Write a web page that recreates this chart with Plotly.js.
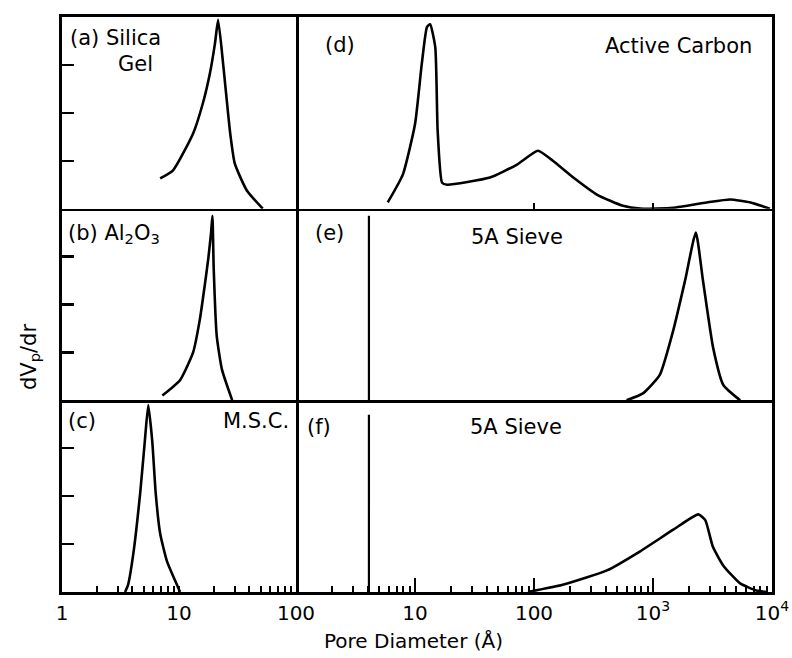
<!DOCTYPE html>
<html>
<head>
<meta charset="utf-8">
<script src="https://cdn.plot.ly/plotly-3.0.1.min.js"></script>
<style>html,body{margin:0;padding:0;background:#fff;}#chart{width:792px;height:658px;}</style>
</head>
<body>
<div id="chart"></div>
<script>
// ---- Data (pore diameter in Å, dVp/dr in arbitrary units) ----
const aX = [6.9, 8.9, 13.2, 16, 18.4, 20.3, 21.6, 24, 27.4, 30, 38, 52];
const aY = [0.63, 0.80, 1.57, 2.2, 2.83, 3.45, 3.94, 2.95, 1.57, 0.94, 0.38, 0];

const bX = [7.2, 10.2, 13.2, 15.1, 16.6, 17.8, 18.8, 19.3, 19.8, 21, 23.3, 28.5];
const bY = [0.1, 0.42, 1.0, 1.7, 2.4, 2.96, 3.5, 3.85, 2.75, 1.35, 0.64, 0];

const cX = [3.46, 3.67, 4.07, 4.66, 5.1, 5.46, 5.91, 6.32, 6.9, 7.9, 9.6, 10.2];
const cY = [0, 0.15, 0.8, 2.07, 3.14, 3.9, 3.14, 2.07, 1.22, 0.64, 0.15, 0];

const dX = [5.9, 7.9, 10, 11.4, 12.6, 13.4, 14.8, 15.5, 16.9, 18.6, 42.6, 72, 108, 144, 214, 340, 560, 780, 1480, 2830, 4450, 6600, 9600];
const dY = [0.13, 0.71, 1.76, 3.02, 3.79, 3.85, 3.37, 1.63, 0.54, 0.50, 0.65, 0.92, 1.21, 1.0, 0.65, 0.29, 0.06, 0, 0.02, 0.13, 0.19, 0.13, 0];

const eX = [600, 830, 1140, 1480, 1860, 2290, 2630, 3200, 3900, 5400];
const eY = [0, 0.15, 0.53, 1.46, 2.5, 3.5, 2.5, 1.1, 0.32, 0];
const eLineX = [4.1, 4.1];
const eLineY = [0, 3.85];

const fX = [89, 174, 410, 780, 1480, 2400, 2750, 3180, 3900, 5400, 7400, 9100];
const fY = [0, 0.15, 0.45, 0.85, 1.3, 1.62, 1.5, 0.95, 0.55, 0.18, 0.03, 0];
const fLineX = [4.1, 4.1];
const fLineY = [0, 3.7];

const leftTickVals = [1, 10, 100];
const leftTickText = ['1', '10', '100'];
const leftMinor = [2,3,4,5,6,7,8,9,20,30,40,50,60,70,80,90];
const rightTickVals = [10, 100, 1000, 10000];
const rightTickText = ['10', '100', '10<sup>3</sup>', '10<sup>4</sup>'];
const rightMinor = [2,3,4,5,6,7,8,9,20,30,40,50,60,70,80,90,200,300,400,500,600,700,800,900,2000,3000,4000,5000,6000,7000,8000,9000];
const yTickVals = [1, 2, 3];

// ---- Traces ----
const lineStyle = {color: '#000', width: 2.6, shape: 'spline', smoothing: 0.5};
const vStyle = {color: '#000', width: 2.2};
const traces = [
  {x: aX, y: aY, xaxis: 'x', yaxis: 'y', mode: 'lines', line: lineStyle, hoverinfo: 'skip'},
  {x: bX, y: bY, xaxis: 'x2', yaxis: 'y2', mode: 'lines', line: lineStyle, hoverinfo: 'skip'},
  {x: cX, y: cY, xaxis: 'x3', yaxis: 'y3', mode: 'lines', line: lineStyle, hoverinfo: 'skip'},
  {x: dX, y: dY, xaxis: 'x4', yaxis: 'y4', mode: 'lines', line: lineStyle, hoverinfo: 'skip'},
  {x: eX, y: eY, xaxis: 'x5', yaxis: 'y5', mode: 'lines', line: lineStyle, hoverinfo: 'skip'},
  {x: eLineX, y: eLineY, xaxis: 'x5', yaxis: 'y5', mode: 'lines', line: vStyle, hoverinfo: 'skip'},
  {x: fX, y: fY, xaxis: 'x6', yaxis: 'y6', mode: 'lines', line: lineStyle, hoverinfo: 'skip'},
  {x: fLineX, y: fLineY, xaxis: 'x6', yaxis: 'y6', mode: 'lines', line: vStyle, hoverinfo: 'skip'}
];

// ---- Layout ----
const FONT = 'DejaVu Sans, Arial, sans-serif';
const splitFrac = (296 - 62) / 710;
const LW = 2.6;
function xAx(domain, range, anchor, mirror, extra) {
  return Object.assign({
    domain: domain, type: 'log', range: range, anchor: anchor,
    showline: true, mirror: mirror, linecolor: '#000', linewidth: LW,
    showgrid: false, zeroline: false, ticks: '', showticklabels: false, fixedrange: true
  }, extra || {});
}
function yAx(domain, anchor, isLeft) {
  const o = {
    domain: domain, range: [0, 4], anchor: anchor,
    showline: true, linecolor: '#000', linewidth: LW,
    showgrid: false, zeroline: false, showticklabels: false, fixedrange: true
  };
  if (isLeft) {
    o.mirror = true;
    o.ticks = 'inside'; o.tickvals = yTickVals; o.ticklen = 12; o.tickwidth = 2.4; o.tickcolor = '#000';
  } else {
    o.side = 'right'; o.mirror = false; o.ticks = '';
  }
  return o;
}
const rowTop = [2/3, 1], rowMid = [1/3, 2/3], rowBot = [0, 1/3];
const colL = [0, splitFrac], colR = [splitFrac, 1];
const tickFont = {family: FONT, size: 20, color: '#000'};

const layout = {
  width: 792, height: 658,
  margin: {l: 62, r: 20, t: 17, b: 66},
  paper_bgcolor: '#fff', plot_bgcolor: '#fff',
  showlegend: false,
  font: {family: FONT, color: '#000'},
  xaxis: xAx(colL, [0, 2], 'y', true),
  yaxis: yAx(rowTop, 'x', true),
  xaxis2: xAx(colL, [0, 2], 'y2', false),
  yaxis2: yAx(rowMid, 'x2', true),
  xaxis3: xAx(colL, [0, 2], 'y3', false, {
    ticks: 'inside', tickvals: leftTickVals, ticktext: leftTickText, ticklen: 6, tickwidth: 2, tickcolor: '#000',
    showticklabels: true, tickfont: tickFont, ticklabelstandoff: 1,
    minor: {tickvals: leftMinor, ticks: 'inside', ticklen: 6, tickwidth: 2, tickcolor: '#000', showgrid: false}
  }),
  yaxis3: yAx(rowBot, 'x3', true),
  xaxis4: xAx(colR, [0, 4], 'y4', true, {
    ticks: 'inside', tickvals: [100, 1000], ticklen: 6, tickwidth: 2, tickcolor: '#000'
  }),
  yaxis4: yAx(rowTop, 'x4', false),
  xaxis5: xAx(colR, [0, 4], 'y5', false),
  yaxis5: yAx(rowMid, 'x5', false),
  xaxis6: xAx(colR, [0, 4], 'y6', false, {
    ticks: 'inside', tickvals: rightTickVals, ticktext: rightTickText, ticklen: 14, tickwidth: 2, tickcolor: '#000',
    showticklabels: true, tickfont: tickFont, ticklabelstandoff: 1,
    minor: {tickvals: rightMinor, ticks: 'inside', ticklen: 6, tickwidth: 2, tickcolor: '#000', showgrid: false}
  }),
  yaxis6: yAx(rowBot, 'x6', false),
  annotations: []
};

const labFont = {family: FONT, size: 21, color: '#000'};
function ann(text, x, y, xanchor, extra) {
  return Object.assign({text: text, x: x, y: y, xref: 'paper', yref: 'paper',
    xanchor: xanchor, yanchor: 'middle', showarrow: false, font: labFont}, extra || {});
}
const px = v => (v - 62) / 710;
const py = v => (592 - v) / 575;
layout.annotations.push(
  ann('(a) Silica', px(68), py(38), 'left'),
  ann('Gel', px(116), py(64), 'left'),
  ann('(b) Al<sub>2</sub>O<sub>3</sub>', px(66), py(234), 'left'),
  ann('(c)', px(66), py(421), 'left'),
  ann('M.S.C.', px(291), py(421), 'right'),
  ann('(d)', px(323), py(45), 'left'),
  ann('Active Carbon', px(754), py(46), 'right'),
  ann('(e)', px(313), py(233), 'left'),
  ann('5A Sieve', px(517), py(237), 'center'),
  ann('(f)', px(305), py(427), 'left'),
  ann('5A Sieve', px(516), py(427), 'center'),
  ann('Pore Diameter (Å)', px(413), py(641), 'center', {font: {family: FONT, size: 20, color: '#000'}}),
  ann('dV<sub>p</sub>/dr', px(30), py(357), 'center', {textangle: -90})
);

Plotly.newPlot('chart', traces, layout, {staticPlot: true, displayModeBar: false});
</script>
</body>
</html>
